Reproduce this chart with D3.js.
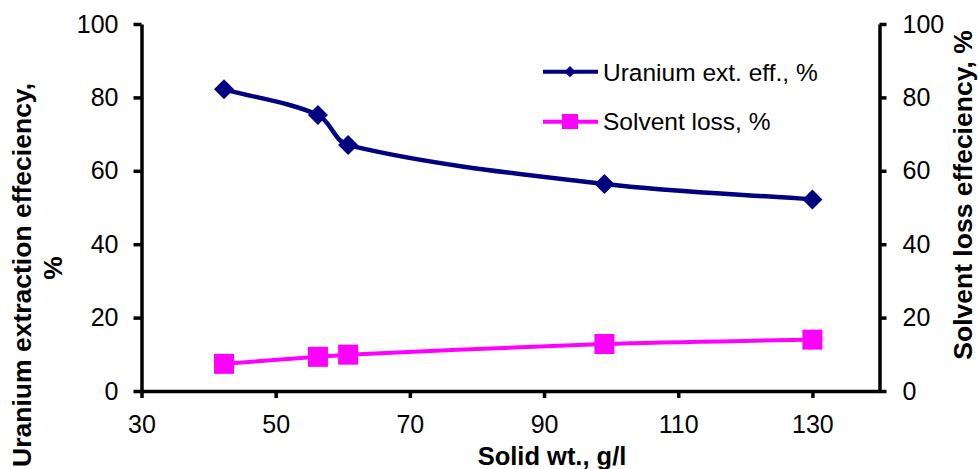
<!DOCTYPE html>
<html><head><meta charset="utf-8">
<script src="https://cdn.jsdelivr.net/npm/d3@7"></script>
<style>
html,body{margin:0;padding:0;background:#fff;}
svg{display:block;font-family:"Liberation Sans",Arial,sans-serif;}
</style></head>
<body>
<svg id="chart" width="978" height="469"></svg>
<script>
// Data
const solidWt = [42.3, 56.3, 60.8, 99, 130];
const uraniumEff = [82.2, 75.2, 67.0, 56.4, 52.2];
const solventLoss = [7.4, 9.3, 9.9, 12.8, 14.0];
const xTicks = [30, 50, 70, 90, 110, 130];
const yTicks = [0, 20, 40, 60, 80, 100];
const seriesNames = ["Uranium ext. eff., %", "Solvent loss, %"];
const xTitle = "Solid wt., g/l";
const yLeftTitle = ["Uranium extraction effeciency,", "%"];
const yRightTitle = "Solvent loss effeciency, %";

const svg = d3.select("#chart");
const x = d3.scaleLinear().domain([30, 140]).range([141.5, 879.5]);
const yL = d3.scaleLinear().domain([0, 100]).range([391, 24]);
const yR = d3.scaleLinear().domain([0, 100]).range([391, 24]);

const navy = "#000080", magenta = "#FF00FF";
const axisW = 3.5;

function styleAxis(g){
  g.selectAll("path.domain").attr("stroke","#000").attr("stroke-width",axisW);
  g.selectAll(".tick line").attr("stroke","#000").attr("stroke-width",axisW);
  g.selectAll(".tick text").attr("fill","#000").attr("font-size","25px")
    .attr("font-family",'"Liberation Sans",Arial,sans-serif');
}

// Left axis
svg.append("g").attr("transform",`translate(${x(30)},0)`)
  .call(d3.axisLeft(yL).tickValues(yTicks).tickSize(8).tickSizeOuter(0).tickPadding(15))
  .call(styleAxis);
// Right axis
svg.append("g").attr("transform",`translate(${x(140)},0)`)
  .call(d3.axisRight(yR).tickValues(yTicks).tickSize(7).tickSizeOuter(0).tickPadding(16))
  .call(styleAxis);
// Bottom axis
svg.append("g").attr("transform",`translate(0,${yL(0)})`)
  .call(d3.axisBottom(x).tickValues(xTicks).tickSize(7).tickSizeOuter(0).tickPadding(17))
  .call(styleAxis);

// Excel-like smoothed line (chord-length weighted tangents) built with d3.path
function smoothPath(pts, f){
  const p = d3.path();
  const n = pts.length;
  const dist = (a,b)=>Math.hypot(b[0]-a[0], b[1]-a[1]);
  const cin = [], cout = [];
  for (let i=0;i<n;i++){
    if (i===0){
      cout[i] = [pts[0][0]+(pts[1][0]-pts[0][0])/3, pts[0][1]+(pts[1][1]-pts[0][1])/3];
    } else if (i===n-1){
      cin[i] = [pts[i][0]-(pts[i][0]-pts[i-1][0])/3, pts[i][1]-(pts[i][1]-pts[i-1][1])/3];
    } else {
      const T = [pts[i+1][0]-pts[i-1][0], pts[i+1][1]-pts[i-1][1]];
      const d0 = dist(pts[i-1],pts[i]), d1 = dist(pts[i],pts[i+1]);
      const s = d0+d1;
      cout[i] = [pts[i][0]+T[0]*f*d1/s, pts[i][1]+T[1]*f*d1/s];
      cin[i]  = [pts[i][0]-T[0]*f*d0/s, pts[i][1]-T[1]*f*d0/s];
    }
  }
  p.moveTo(pts[0][0], pts[0][1]);
  for (let i=1;i<n;i++){
    p.bezierCurveTo(cout[i-1][0],cout[i-1][1],cin[i][0],cin[i][1],pts[i][0],pts[i][1]);
  }
  return p.toString();
}

const ptsU = uraniumEff.map((d,i)=>[x(solidWt[i]), yL(d)]);
const ptsS = solventLoss.map((d,i)=>[x(solidWt[i]), yR(d)]);

svg.append("path").attr("d",smoothPath(ptsU, 1/3)).attr("fill","none")
  .attr("stroke",navy).attr("stroke-width",4.5);
svg.append("path").attr("d",smoothPath(ptsS, 1/3)).attr("fill","none")
  .attr("stroke",magenta).attr("stroke-width",4);

// Markers
const diamond = d3.symbol().type(d3.symbolSquare).size(200);
svg.selectAll(".mU").data(uraniumEff).enter().append("path")
  .attr("d",diamond)
  .attr("transform",(d,i)=>`translate(${x(solidWt[i])},${yL(d)}) rotate(45)`)
  .attr("fill",navy);
svg.selectAll(".mS").data(solventLoss).enter().append("rect")
  .attr("x",(d,i)=>x(solidWt[i])-10).attr("y",d=>yR(d)-10)
  .attr("width",20).attr("height",20).attr("fill",magenta);

// Legend
const leg = svg.append("g");
leg.append("line").attr("x1",543).attr("x2",598).attr("y1",71.7).attr("y2",71.7)
  .attr("stroke",navy).attr("stroke-width",4);
leg.append("path").attr("d",d3.symbol().type(d3.symbolSquare).size(64))
  .attr("transform","translate(570,71.7) rotate(45)").attr("fill",navy);
leg.append("text").attr("x",603).attr("y",81).attr("font-size","24.5px").text(seriesNames[0]);
leg.append("line").attr("x1",543).attr("x2",598).attr("y1",121.7).attr("y2",121.7)
  .attr("stroke",magenta).attr("stroke-width",4);
leg.append("rect").attr("x",562).attr("y",114).attr("width",16).attr("height",15).attr("fill",magenta);
leg.append("text").attr("x",603).attr("y",130).attr("font-size","24.5px").text(seriesNames[1]);

// Titles
svg.append("text").attr("x",552).attr("y",465).attr("text-anchor","middle")
  .attr("font-weight","bold").attr("font-size","25.5px").text(xTitle);
svg.append("text").attr("transform","translate(31,83) rotate(-90)").attr("text-anchor","end")
  .attr("font-weight","bold").attr("font-size","26.5px").text(yLeftTitle[0]);
svg.append("text").attr("transform","translate(62,268) rotate(-90)").attr("text-anchor","middle")
  .attr("font-weight","bold").attr("font-size","26.5px").text(yLeftTitle[1]);
svg.append("text").attr("transform","translate(972,195) rotate(-90)").attr("text-anchor","middle")
  .attr("font-weight","bold").attr("font-size","26.5px").text(yRightTitle);
</script>
</body></html>
